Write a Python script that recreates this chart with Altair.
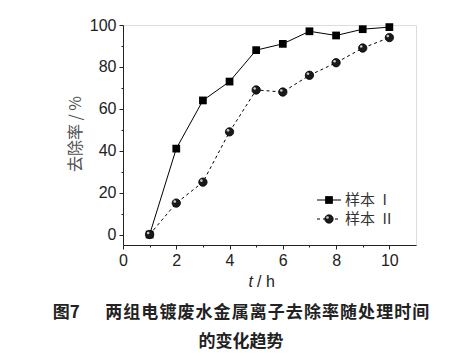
import altair as alt
import pandas as pd

t_values = [1, 2, 3, 4, 5, 6, 7, 8, 9, 10]
sample1 = [0, 41, 64, 73, 88, 91, 97, 95, 98, 99]
sample2 = [0, 15, 25, 49, 69, 68, 76, 82, 89, 94]
series_names = ["样本\u2002I", "样本\u2002II"]
x_major = [0, 2, 4, 6, 8, 10]
x_minor = [1, 3, 5, 7, 9]
y_major = [0, 20, 40, 60, 80, 100]
y_minor = [10, 30, 50, 70, 90]
caption1 = "图7\u3000\u2002两\u200a组\u200a电\u200a镀\u200a废\u200a水\u200a金\u200a属\u200a离\u200a子\u200a去\u200a除\u200a率\u200a随\u200a处\u200a理\u200a时\u200a间"
caption2 = "的变化趋势"

df1 = pd.DataFrame({"t": t_values, "v": sample1})
df2 = pd.DataFrame({"t": t_values, "v": sample2})

W, H = 293, 220
LAB = "Liberation Sans"
CJK = "Noto Sans CJK SC"
AX = "#222222"

xs = alt.Scale(domain=[0, 11], nice=False, zero=False)
ys = alt.Scale(domain=[-5, 100], nice=False, zero=False)

x_axis = alt.Axis(values=x_major, orient="bottom", tickSize=4, labelFont=LAB, labelFontSize=16,
                  labelColor=AX, domainColor=AX, tickColor=AX, labelPadding=3, grid=False,
                  title=None, labelFlush=False)
y_axis = alt.Axis(values=y_major, orient="left", tickSize=4, labelFont=LAB, labelFontSize=16,
                  labelColor=AX, domainColor=AX, tickColor=AX, labelPadding=3, grid=False,
                  title="去除率 / %", titleFont=CJK, titleFontSize=16, titleFontWeight="normal",
                  titleColor="#505050", titleAngle=-90, titleX=-48, titleY=108.5,
                  titleAlign="center", titleBaseline="middle")

base1 = alt.Chart(df1)
base2 = alt.Chart(df2)

line1 = base1.mark_line(color="black", strokeWidth=1).encode(
    x=alt.X("t:Q", scale=xs, axis=x_axis),
    y=alt.Y("v:Q", scale=ys, axis=y_axis))
pts1 = base1.mark_point(shape="square", filled=True, color="black", size=60, opacity=1).encode(
    x=alt.X("t:Q", scale=xs, axis=None), y=alt.Y("v:Q", scale=ys, axis=None))
line2 = base2.mark_line(color="black", strokeWidth=1, strokeDash=[3, 3]).encode(
    x=alt.X("t:Q", scale=xs, axis=None), y=alt.Y("v:Q", scale=ys, axis=None))
pts2 = base2.mark_point(shape="circle", filled=True, color="#1a1a1a", size=70, opacity=1,
                        stroke="black", strokeWidth=0.8).encode(
    x=alt.X("t:Q", scale=xs, axis=None), y=alt.Y("v:Q", scale=ys, axis=None))
hl2 = base2.mark_point(shape="circle", filled=True, color="#c8c8c8", size=7, opacity=1,
                       xOffset=-1.5, yOffset=-1.5).encode(
    x=alt.X("t:Q", scale=xs, axis=None), y=alt.Y("v:Q", scale=ys, axis=None))

minor_x = alt.Chart(pd.DataFrame({"t": x_minor})).mark_point(opacity=0).encode(
    x=alt.X("t:Q", scale=xs, axis=alt.Axis(values=x_minor, orient="bottom", tickSize=2,
                                           labels=False, domain=False, grid=False, title=None,
                                           tickColor=AX)))
minor_y = alt.Chart(pd.DataFrame({"v": y_minor})).mark_point(opacity=0).encode(
    y=alt.Y("v:Q", scale=ys, axis=alt.Axis(values=y_minor, orient="left", tickSize=2,
                                           labels=False, domain=False, grid=False, title=None,
                                           tickColor=AX)))

one = pd.DataFrame({"a": [0]})
# legend
leg_rows = [175, 194]
leg = []
leg.append(alt.Chart(one).mark_rule(color="black", strokeWidth=1).encode(
    x=alt.value(194), x2=alt.value(218), y=alt.value(leg_rows[0])))
leg.append(alt.Chart(one).mark_rule(color="black", strokeWidth=1, strokeDash=[3, 3]).encode(
    x=alt.value(194), x2=alt.value(218), y=alt.value(leg_rows[1])))
leg.append(alt.Chart(one).mark_point(shape="square", filled=True, color="black", size=60, opacity=1).encode(
    x=alt.value(206), y=alt.value(leg_rows[0])))
leg.append(alt.Chart(one).mark_point(shape="circle", filled=True, color="#1a1a1a", size=70, opacity=1,
                                     stroke="black", strokeWidth=0.8).encode(
    x=alt.value(206), y=alt.value(leg_rows[1])))
leg.append(alt.Chart(one).mark_point(shape="circle", filled=True, color="#c8c8c8", size=7, opacity=1).encode(
    x=alt.value(204.5), y=alt.value(leg_rows[1] - 1.5)))
for name, yy in zip(series_names, leg_rows):
    leg.append(alt.Chart(one).mark_text(text=name, font=CJK, fontSize=15, color="#333333",
                                        align="left", baseline="middle").encode(
        x=alt.value(222), y=alt.value(yy)))

# x title
xt1 = alt.Chart(one).mark_text(text="t", font=LAB, fontSize=16, fontStyle="italic", color=AX,
                               align="right", baseline="alphabetic").encode(
    x=alt.value(130), y=alt.value(262))
xt2 = alt.Chart(one).mark_text(text="/\u00a0h", font=LAB, fontSize=16, color=AX,
                               align="left", baseline="alphabetic").encode(
    x=alt.value(134), y=alt.value(262))

cap1 = alt.Chart(one).mark_text(text=caption1, font=CJK, fontSize=17, fontWeight="bold",
                                color="#222222", align="center", baseline="middle").encode(
    x=alt.value(118), y=alt.value(288))
cap2 = alt.Chart(one).mark_text(text=caption2, font=CJK, fontSize=17, fontWeight="bold",
                                color="#222222", align="center", baseline="middle").encode(
    x=alt.value(118), y=alt.value(317))

chart = alt.layer(line1, minor_x, minor_y, line2, pts1, pts2, hl2, *leg, xt1, xt2, cap1, cap2).resolve_axis(
    x="independent", y="independent"
).properties(
    width=W, height=H,
    autosize=alt.AutoSizeParams(type="none"),
    padding={"left": 115, "top": 17, "right": 38, "bottom": 109},
).configure_view(stroke=None).configure(background="white")

chart.save("out.html", embed_options={"renderer": "svg", "actions": False})
